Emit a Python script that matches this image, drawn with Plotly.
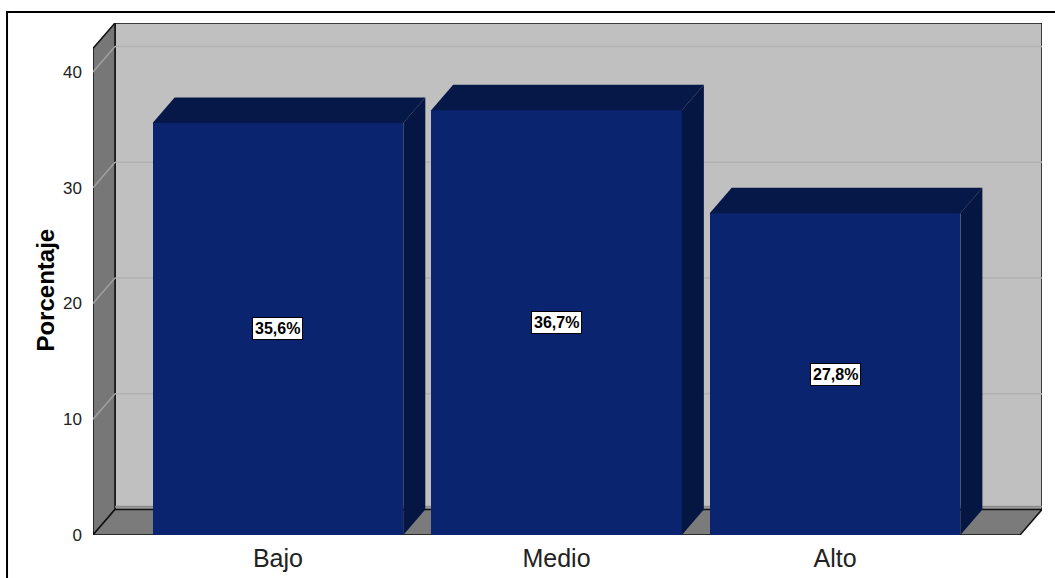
import plotly.graph_objects as go

categories = ["Bajo", "Medio", "Alto"]
values = [35.6, 36.7, 27.8]
y_ticks = [0, 10, 20, 30, 40]

# geometry (axis units)
X0, X1 = -0.664, 2.743
DX, DY = 0.079, 2.2
YMAX = 44.23
BW = 0.9

FRONT = "#0A2470"
TOP = "#061848"
SIDE = "#051642"
FONT = "Liberation Sans, Arial"

fig = go.Figure()

xs = list(range(len(categories)))
fig.add_trace(go.Bar(x=xs, y=values, width=BW, marker=dict(color=FRONT, line=dict(width=0)),
                     hoverinfo="skip", showlegend=False))

for i, v in zip(xs, values):
    l, r = i - BW / 2, i + BW / 2
    # top face
    fig.add_trace(go.Scatter(x=[l, r, r + DX, l + DX, l], y=[v, v, v + DY, v + DY, v],
                             fill="toself", fillcolor=TOP, mode="lines",
                             line=dict(width=0, color=TOP), hoverinfo="skip", showlegend=False))
    # side face
    fig.add_trace(go.Scatter(x=[r, r + DX, r + DX, r, r], y=[0, DY, v + DY, v, 0],
                             fill="toself", fillcolor=SIDE, mode="lines",
                             line=dict(width=0, color=SIDE), hoverinfo="skip", showlegend=False))

shapes = []
# back wall
shapes.append(dict(type="rect", x0=X0 + DX, x1=X1, y0=DY, y1=YMAX, fillcolor="#C0C0C0",
                   line=dict(color="#111111", width=1.5), layer="below"))
# left wall
shapes.append(dict(type="path", path=f"M {X0},0 L {X0+DX},{DY} L {X0+DX},{YMAX} L {X0},{YMAX-DY} Z",
                   fillcolor="#777777", line=dict(color="#111111", width=1.5), layer="below"))
# floor
shapes.append(dict(type="path", path=f"M {X0},0 L {X1-DX},0 L {X1},{DY} L {X0+DX},{DY} Z",
                   fillcolor="#7B7B7B", line=dict(color="#111111", width=1.5), layer="below"))
shapes.append(dict(type="line", x0=X0 + DX, x1=X1, y0=DY + 0.25, y1=DY + 0.25,
                   line=dict(color="#8C8C8C", width=2), layer="below"))
# gridlines
for t in y_ticks[1:]:
    shapes.append(dict(type="line", x0=X0 + DX, x1=X1, y0=t + DY, y1=t + DY,
                       line=dict(color="#B2B2B2", width=1.5), layer="below"))
    shapes.append(dict(type="line", x0=X0, x1=X0 + DX, y0=t, y1=t + DY,
                       line=dict(color="#A0A0A0", width=1.5), layer="below"))
# outer frame
shapes.append(dict(type="rect", xref="paper", yref="paper", x0=-0.0906, x1=1.03, y0=-0.2, y1=1.0215,
                   line=dict(color="#000000", width=2), fillcolor="rgba(0,0,0,0)"))

annotations = []
for i, v in zip(xs, values):
    annotations.append(dict(x=i, y=v / 2, text=f"<b>{v:.1f}%</b>".replace(".", ","), showarrow=False,
                            font=dict(family=FONT, size=16, color="#000000"),
                            bgcolor="#FFFFFF", bordercolor="#000000", borderwidth=1, borderpad=2))
annotations.append(dict(xref="paper", yref="paper", x=-0.0674, y=0.4785, text="<b>Porcentaje</b>",
                        textangle=-90, showarrow=False,
                        font=dict(family=FONT, size=24, color="#000000")))

fig.update_layout(
    width=1055, height=578,
    margin=dict(l=93, r=13, t=23, b=43),
    paper_bgcolor="#FFFFFF", plot_bgcolor="rgba(0,0,0,0)",
    shapes=shapes, annotations=annotations,
    bargap=0,
    xaxis=dict(range=[X0, X1], tickvals=xs, ticktext=categories, showgrid=False, zeroline=False,
               showline=False, ticks="", ticklabelstandoff=6, automargin=False,
               tickfont=dict(family=FONT, size=25, color="#222222")),
    yaxis=dict(range=[0, YMAX], tickvals=y_ticks, showgrid=False, zeroline=False, showline=False,
               ticks="", ticklabelstandoff=10, automargin=False,
               tickfont=dict(family=FONT, size=17, color="#222222")),
)

fig.write_html("out.html")
